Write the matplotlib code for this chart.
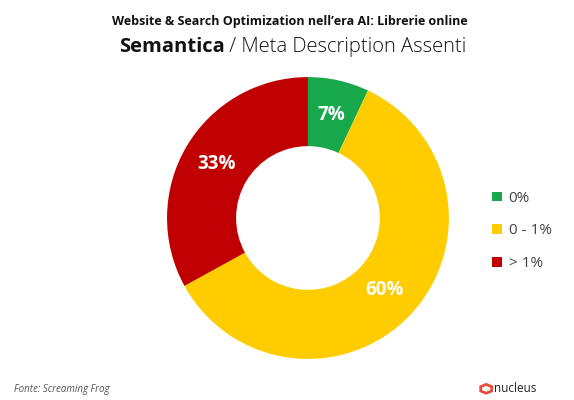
import matplotlib.pyplot as plt
from matplotlib.patches import Patch, RegularPolygon

labels = ["0%", "0 - 1%", "> 1%"]
values = [7, 60, 33]
colors = ["#16a84a", "#ffcc00", "#c00000"]

plt.rcParams["font.family"] = ["Open Sans", "DejaVu Sans"]

fig = plt.figure(figsize=(5.74, 4.0), dpi=100)
ax = fig.add_axes([0.291, 0.1025, 0.491, 0.705])

wedges, _, autotexts = ax.pie(
    values, colors=colors, startangle=90, counterclock=False,
    autopct=lambda p: f"{p:.0f}%", pctdistance=0.75,
    wedgeprops=dict(width=0.49, edgecolor="none"),
    textprops=dict(color="white", fontsize=13.5, fontweight="bold"),
)
ax.set_xlim(-1, 1)
ax.set_ylim(-1, 1)
ax.set_aspect("equal")

handles = [Patch(facecolor=c, label=l) for c, l in zip(colors, labels)]
fig.legend(handles=handles, loc="center left", bbox_to_anchor=(0.834, 0.4225),
           frameon=False, fontsize=11, labelspacing=1.15, handlelength=0.6,
           handleheight=0.6, handletextpad=0.45, labelcolor="#444444")

fig.text(0.505, 0.947, "Website & Search Optimization nell\u2019era AI: Librerie online",
         ha="center", va="center", fontsize=9, fontweight="bold", color="#111111")
t1 = fig.text(0.2, 0.882, "Semantica", ha="left", va="center", fontsize=14.5,
              fontweight="bold", color="#111111")
fig.canvas.draw()
bb = t1.get_window_extent()
t2 = fig.text(bb.x1 / fig.bbox.width, 0.882, " / Meta Description Assenti",
              ha="left", va="center", fontsize=14.5, fontweight="light", color="#111111")
fig.canvas.draw()
bb2 = t2.get_window_extent()
total = bb2.x1 - bb.x0
shift = (0.51 * fig.bbox.width - total / 2) - bb.x0
t1.set_x((bb.x0 + shift) / fig.bbox.width)
t2.set_x((bb.x1 + shift) / fig.bbox.width)

fig.text(0.024, 0.027, "Fonte: Screaming Frog", ha="left", va="center",
         fontsize=7, style="italic", color="#555555")
fig.text(0.86, 0.028, "nucleus", ha="left", va="center", fontsize=8.5, color="#222222")
fig.patches.append(RegularPolygon((0.847, 0.028), 6, radius=0.011, fill=False,
                                  edgecolor="#e84c3d", linewidth=2,
                                  transform=fig.transFigure))

fig.savefig("out.png", dpi=100, facecolor="white")
